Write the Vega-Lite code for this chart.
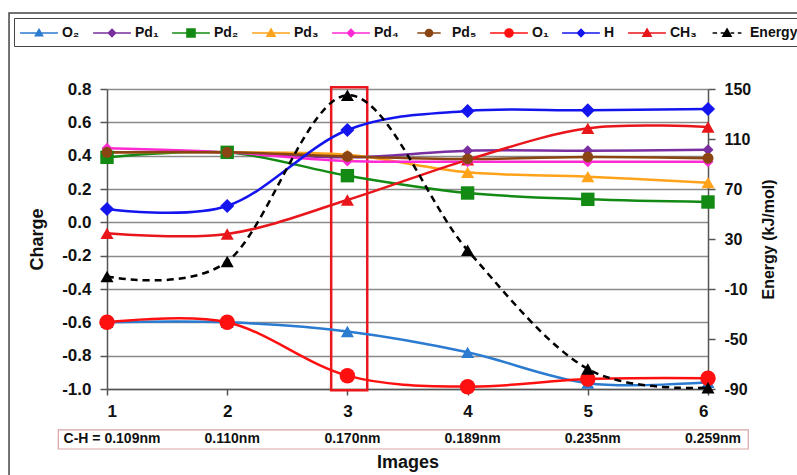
{
  "$schema": "https://vega.github.io/schema/vega-lite/v6.json",
  "width": 601,
  "height": 300,
  "autosize": {"type": "none"},
  "padding": {"left": 107, "top": 89, "right": 89, "bottom": 86},
  "background": "white",
  "config": {
    "font": "Liberation Sans",
    "view": {"stroke": null},
    "axis": {
      "labelFont": "Liberation Sans", "labelFontWeight": "bold", "labelFontSize": 17, "labelColor": "#111",
      "titleFont": "Liberation Sans", "titleFontWeight": "bold", "titleFontSize": 18, "titleColor": "#111",
      "domainColor": "#555", "domainWidth": 1.5, "tickColor": "#555", "tickWidth": 1.5
    }
  },
  "datasets": {
    "charges": [
      {"image": 1, "series": "O₂", "charge": -0.60}, {"image": 2, "series": "O₂", "charge": -0.60}, {"image": 3, "series": "O₂", "charge": -0.655}, {"image": 4, "series": "O₂", "charge": -0.78}, {"image": 5, "series": "O₂", "charge": -0.965}, {"image": 6, "series": "O₂", "charge": -0.96},
      {"image": 1, "series": "Pd₁", "charge": 0.42}, {"image": 2, "series": "Pd₁", "charge": 0.42}, {"image": 3, "series": "Pd₁", "charge": 0.39}, {"image": 4, "series": "Pd₁", "charge": 0.43}, {"image": 5, "series": "Pd₁", "charge": 0.43}, {"image": 6, "series": "Pd₁", "charge": 0.435},
      {"image": 1, "series": "Pd₂", "charge": 0.39}, {"image": 2, "series": "Pd₂", "charge": 0.42}, {"image": 3, "series": "Pd₂", "charge": 0.28}, {"image": 4, "series": "Pd₂", "charge": 0.176}, {"image": 5, "series": "Pd₂", "charge": 0.138}, {"image": 6, "series": "Pd₂", "charge": 0.122},
      {"image": 1, "series": "Pd₃", "charge": 0.42}, {"image": 2, "series": "Pd₃", "charge": 0.42}, {"image": 3, "series": "Pd₃", "charge": 0.405}, {"image": 4, "series": "Pd₃", "charge": 0.30}, {"image": 5, "series": "Pd₃", "charge": 0.274}, {"image": 6, "series": "Pd₃", "charge": 0.238},
      {"image": 1, "series": "Pd₄", "charge": 0.445}, {"image": 2, "series": "Pd₄", "charge": 0.42}, {"image": 3, "series": "Pd₄", "charge": 0.368}, {"image": 4, "series": "Pd₄", "charge": 0.364}, {"image": 5, "series": "Pd₄", "charge": 0.364}, {"image": 6, "series": "Pd₄", "charge": 0.364},
      {"image": 1, "series": "Pd₅", "charge": 0.42}, {"image": 2, "series": "Pd₅", "charge": 0.42}, {"image": 3, "series": "Pd₅", "charge": 0.395}, {"image": 4, "series": "Pd₅", "charge": 0.38}, {"image": 5, "series": "Pd₅", "charge": 0.392}, {"image": 6, "series": "Pd₅", "charge": 0.385},
      {"image": 1, "series": "O₁", "charge": -0.60}, {"image": 2, "series": "O₁", "charge": -0.60}, {"image": 3, "series": "O₁", "charge": -0.92}, {"image": 4, "series": "O₁", "charge": -0.986}, {"image": 5, "series": "O₁", "charge": -0.94}, {"image": 6, "series": "O₁", "charge": -0.935},
      {"image": 1, "series": "H", "charge": 0.08}, {"image": 2, "series": "H", "charge": 0.098}, {"image": 3, "series": "H", "charge": 0.554}, {"image": 4, "series": "H", "charge": 0.668}, {"image": 5, "series": "H", "charge": 0.672}, {"image": 6, "series": "H", "charge": 0.68},
      {"image": 1, "series": "CH₃", "charge": -0.066}, {"image": 2, "series": "CH₃", "charge": -0.07}, {"image": 3, "series": "CH₃", "charge": 0.134}, {"image": 4, "series": "CH₃", "charge": 0.375}, {"image": 5, "series": "CH₃", "charge": 0.564}, {"image": 6, "series": "CH₃", "charge": 0.572}
    ],
    "energy": [
      {"image": 1, "series": "Energy", "energy": 0},
      {"image": 2, "series": "Energy", "energy": 12},
      {"image": 3, "series": "Energy", "energy": 145},
      {"image": 4, "series": "Energy", "energy": 21},
      {"image": 5, "series": "Energy", "energy": -74},
      {"image": 6, "series": "Energy", "energy": -89}
    ],
    "bonds": [
      {"image": 1, "label": "C-H = 0.109nm"},
      {"image": 2, "label": "0.110nm"},
      {"image": 3, "label": "0.170nm"},
      {"image": 4, "label": "0.189nm"},
      {"image": 5, "label": "0.235nm"},
      {"image": 6, "label": "0.259nm"}
    ]
  },
  "layer": [
    {
      "layer": [
        {
          "data": {"name": "bonds"},
          "transform": [{"filter": "datum.image == 1"}],
          "mark": {"type": "rect", "fill": null, "stroke": "#444", "strokeWidth": 1.5},
          "encoding": {
            "x": {"datum": 0.185},
            "x2": {"datum": 6.95},
            "y": {"datum": 1.256},
            "y2": {"datum": -1.65}
          }
        },
        {
          "data": {"name": "bonds"},
          "transform": [{"filter": "datum.image == 3"}],
          "mark": {"type": "rect", "fill": null, "stroke": "#e8181d", "strokeWidth": 2.5},
          "encoding": {
            "x": {"datum": 2.865},
            "x2": {"datum": 3.165},
            "y": {"datum": 0.81},
            "y2": {"datum": -1.008}
          }
        },
        {
          "data": {"name": "charges"},
          "mark": {"type": "line", "interpolate": "cardinal", "strokeWidth": 2.5},
          "encoding": {
            "x": {
              "field": "image", "type": "quantitative",
              "scale": {"domain": [1, 6], "nice": false, "zero": false},
              "axis": {"values": [1, 2, 3, 4, 5, 6], "tickCount": 12, "format": "d", "title": "Images", "grid": false, "tickSize": 6, "labelPadding": 8, "titlePadding": 34}
            },
            "y": {
              "field": "charge", "type": "quantitative",
              "scale": {"domain": [-1, 0.8], "nice": false, "zero": false},
              "axis": {"values": [-1, -0.8, -0.6, -0.4, -0.2, 0, 0.2, 0.4, 0.6, 0.8], "tickCount": 20, "format": ".1f", "labelExpr": "replace(datum.label, '−', '-')", "labelOverlap": false, "title": "Charge", "grid": true, "gridColor": "#8a8a8a", "gridWidth": 1.5, "tickSize": 7, "labelPadding": 9, "titlePadding": 15}
            },
            "color": {"field": "series", "type": "nominal"}
          }
        },
        {
          "data": {"name": "charges"},
          "transform": [{"filter": {"field": "series", "oneOf": ["O₂", "Pd₃", "CH₃"]}}],
          "mark": {"type": "point", "shape": "triangle-up", "filled": true, "size": 170, "opacity": 1},
          "encoding": {
            "x": {"field": "image", "type": "quantitative"},
            "y": {"field": "charge", "type": "quantitative"},
            "color": {"field": "series", "type": "nominal"}
          }
        },
        {
          "data": {"name": "charges"},
          "transform": [{"filter": {"field": "series", "oneOf": ["Pd₁", "Pd₄"]}}],
          "mark": {"type": "point", "shape": "diamond", "filled": true, "size": 120, "opacity": 1},
          "encoding": {
            "x": {"field": "image", "type": "quantitative"},
            "y": {"field": "charge", "type": "quantitative"},
            "color": {"field": "series", "type": "nominal"}
          }
        },
        {
          "data": {"name": "charges"},
          "transform": [{"filter": {"field": "series", "oneOf": ["Pd₂"]}}],
          "mark": {"type": "point", "shape": "square", "filled": true, "size": 180, "opacity": 1},
          "encoding": {
            "x": {"field": "image", "type": "quantitative"},
            "y": {"field": "charge", "type": "quantitative"},
            "color": {"field": "series", "type": "nominal"}
          }
        },
        {
          "data": {"name": "charges"},
          "transform": [{"filter": {"field": "series", "oneOf": ["Pd₅"]}}],
          "mark": {"type": "point", "shape": "circle", "filled": true, "size": 120, "opacity": 1},
          "encoding": {
            "x": {"field": "image", "type": "quantitative"},
            "y": {"field": "charge", "type": "quantitative"},
            "color": {"field": "series", "type": "nominal"}
          }
        },
        {
          "data": {"name": "charges"},
          "transform": [{"filter": {"field": "series", "oneOf": ["O₁"]}}],
          "mark": {"type": "point", "shape": "circle", "filled": true, "size": 240, "opacity": 1},
          "encoding": {
            "x": {"field": "image", "type": "quantitative"},
            "y": {"field": "charge", "type": "quantitative"},
            "color": {"field": "series", "type": "nominal"}
          }
        },
        {
          "data": {"name": "charges"},
          "transform": [{"filter": {"field": "series", "oneOf": ["H"]}}],
          "mark": {"type": "point", "shape": "diamond", "filled": true, "size": 200, "opacity": 1},
          "encoding": {
            "x": {"field": "image", "type": "quantitative"},
            "y": {"field": "charge", "type": "quantitative"},
            "color": {"field": "series", "type": "nominal"}
          }
        },
        {
          "data": {"name": "bonds"},
          "transform": [{"filter": "datum.image == 1"}],
          "mark": {"type": "rect", "fill": "white", "stroke": "#d9a3a3", "strokeWidth": 1.2},
          "encoding": {
            "x": {"datum": 0.595},
            "x2": {"datum": 6.335},
            "y": {"datum": -1.245},
            "y2": {"datum": -1.36}
          }
        },
        {
          "data": {"name": "bonds"},
          "mark": {"type": "text", "font": "Liberation Sans", "fontWeight": "bold", "fontSize": 14, "color": "#111", "dx": 5, "baseline": "middle"},
          "encoding": {
            "x": {"field": "image", "type": "quantitative"},
            "y": {"datum": -1.302},
            "text": {"field": "label"}
          }
        }
      ]
    },
    {
      "layer": [
        {
          "data": {"name": "energy"},
          "mark": {"type": "line", "interpolate": "cardinal", "strokeWidth": 2.5, "strokeDash": [7, 5], "color": "black"},
          "encoding": {
            "x": {"field": "image", "type": "quantitative"},
            "y": {
              "field": "energy", "type": "quantitative",
              "scale": {"domain": [-90, 150], "nice": false, "zero": false},
              "axis": {"orient": "right", "values": [-90, -50, -10, 30, 70, 110, 150], "tickCount": 14, "labelExpr": "replace(datum.label, '−', '-')", "labelOverlap": false, "title": "Energy (kJ/mol)", "titleAngle": 270, "titleFontSize": 16, "labelFontSize": 16, "grid": false, "tickSize": 7, "labelPadding": 9, "titlePadding": 26}
            }
          }
        },
        {
          "data": {"name": "energy"},
          "mark": {"type": "point", "shape": "triangle-up", "filled": true, "size": 170, "color": "black", "opacity": 1},
          "encoding": {
            "x": {"field": "image", "type": "quantitative"},
            "y": {"field": "energy", "type": "quantitative"}
          }
        }
      ]
    },
    {
      "data": {"name": "charges"},
      "transform": [{"filter": "false"}],
      "mark": {"type": "point", "filled": true, "opacity": 1},
      "encoding": {
        "color": {
          "field": "series", "type": "nominal",
          "scale": {
            "domain": ["O₂", "Pd₁", "Pd₂", "Pd₃", "Pd₄", "Pd₅", "O₁", "H", "CH₃", "Energy"],
            "range": ["#2b7bd0", "#7a2fa0", "#138a13", "#ffa31a", "#ff2ad4", "#8b4513", "#ff1010", "#1414ee", "#e8161a", "#000000"]
          },
          "legend": {
            "title": null, "orient": "none", "legendX": -93, "legendY": -71, "direction": "horizontal", "gridAlign": "none",
            "symbolSize": 324, "symbolOffset": 10, "labelOffset": 13, "columnPadding": 10, "padding": 5,
            "strokeColor": "#444", "labelFont": "Liberation Sans", "labelFontWeight": "bold", "labelFontSize": 14, "labelColor": "#111",
            "encode": {"symbols": {"update": {"fill": {"scale": "color", "field": "value"}, "stroke": {"scale": "color", "field": "value"}, "strokeWidth": {"value": 2}, "opacity": {"value": 1}}}}
          }
        },
        "shape": {
          "field": "series", "type": "nominal",
          "scale": {
            "domain": ["O₂", "Pd₁", "Pd₂", "Pd₃", "Pd₄", "Pd₅", "O₁", "H", "CH₃", "Energy"],
            "range": [
              "M-2.1,0H2.1M0,-0.4L0.4,0.3L-0.4,0.3Z",
              "M-2.1,0H2.1M0,-0.4L0.4,0L0,0.4L-0.4,0Z",
              "M-2.1,0H2.1M-0.45,-0.45H0.45V0.45H-0.45Z",
              "M-2.1,0H2.1M0,-0.45L0.45,0.35L-0.45,0.35Z",
              "M-2.1,0H2.1M0,-0.4L0.4,0L0,0.4L-0.4,0Z",
              "M-1.3,0H1.3M-0.4,0A0.4,0.4 0 1,1 0.4,0A0.4,0.4 0 1,1 -0.4,0Z",
              "M-2.1,0H2.1M-0.45,0A0.45,0.45 0 1,1 0.45,0A0.45,0.45 0 1,1 -0.45,0Z",
              "M-2.1,0H2.1M0,-0.4L0.4,0L0,0.4L-0.4,0Z",
              "M-2.1,0H2.1M0,-0.45L0.45,0.35L-0.45,0.35Z",
              "M-1.6,0H-1.1M-0.7,0H-0.3M0.4,0H0.8M1.2,0H1.6M0,-0.45L0.45,0.35L-0.45,0.35Z"
            ]
          },
          "legend": {
            "title": null, "orient": "none", "legendX": -93, "legendY": -71, "direction": "horizontal", "gridAlign": "none",
            "symbolSize": 324, "symbolOffset": 10, "labelOffset": 13, "columnPadding": 10, "padding": 5,
            "strokeColor": "#444", "labelFont": "Liberation Sans", "labelFontWeight": "bold", "labelFontSize": 14, "labelColor": "#111",
            "encode": {"symbols": {"update": {"fill": {"scale": "color", "field": "value"}, "stroke": {"scale": "color", "field": "value"}, "strokeWidth": {"value": 2}, "opacity": {"value": 1}}}}
          }
        }
      }
    }
  ],
  "resolve": {"scale": {"y": "independent"}}
}
